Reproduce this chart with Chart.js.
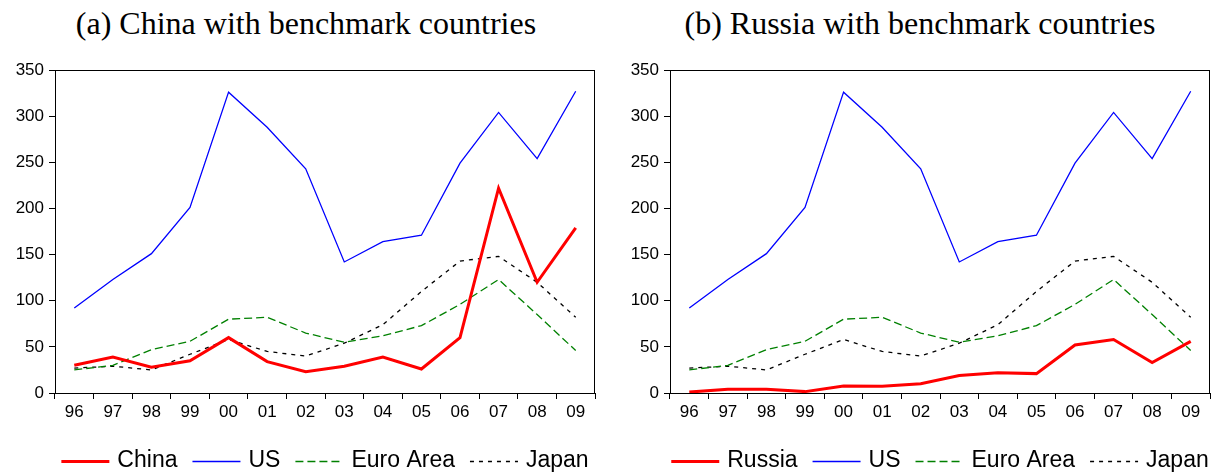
<!DOCTYPE html>
<html>
<head>
<meta charset="utf-8">
<script src="https://cdn.jsdelivr.net/npm/chart.js@4.4.0/dist/chart.umd.min.js"></script>
<style>
  html, body { margin: 0; background: #fff; overflow: hidden; }
  body { width: 1219px; height: 472px; position: relative; }
  .title { position: absolute; top: 7px; font-family: 'Liberation Serif', 'Times New Roman', serif; font-size: 32px; line-height: 1; color: #000; white-space: nowrap; transform: translateX(-50%); }
  .box { position: absolute; top: 0; height: 472px; }
</style>
</head>
<body>
<div class="title" style="left:306px">(a) China with benchmark countries</div>
<div class="title" style="left:920px">(b) Russia with benchmark countries</div>
<div class="box" style="left:0px;width:650px"><canvas id="chartA"></canvas></div>
<div class="box" style="left:610px;width:660px"><canvas id="chartB"></canvas></div>
<script>
  const years = ['96', '97', '98', '99', '00', '01', '02', '03', '04', '05', '06', '07', '08', '09'];
  const yTicks = [0, 50, 100, 150, 200, 250, 300, 350];

  const china = [30, 39, 28, 35, 60, 34, 23, 29, 39, 26, 60, 222, 120, 179];
  const russia = [1, 4, 4, 1.5, 7.6, 7.3, 10, 19, 22, 21, 52, 58, 33, 56];
  const us = [92, 123, 151, 201, 326, 288, 243, 142, 164, 171, 249, 304, 254, 327];
  const euroArea = [25, 30, 47, 56, 80, 82, 65, 55, 62, 73, 96, 123, 85, 46];
  const japan = [27, 29, 25, 42, 58, 45, 40, 54, 74, 110, 143, 148, 120, 82];

  const tickFont = { family: 'Liberation Sans, Arial, sans-serif', size: 17 };
  const legendLine = 48;

  // legend is centred under the plot area, frame closed on top/right, dashed legend samples
  const extras = {
    id: 'extras',
    afterLayout(chart) {
      const shift = chart.options.layout.padding.right / 2;
      chart.legend.left += shift;
      chart.legend.right += shift;
    },
    afterDraw(chart) {
      const a = chart.chartArea;
      const c = chart.ctx;
      c.save();
      c.strokeStyle = '#000';
      c.lineWidth = 1;
      c.strokeRect(a.left + 0.5, a.top + 0.5, a.right - a.left - 1, a.bottom - a.top);
      const boxes = chart.legend.legendHitBoxes || [];
      boxes.forEach((hb, i) => {
        const ds = chart.data.datasets[i];
        const y = Math.round(hb.top + hb.height / 2) + 0.5;
        c.beginPath();
        c.setLineDash(ds.borderDash || []);
        c.strokeStyle = ds.borderColor;
        c.lineWidth = ds.borderWidth;
        c.moveTo(hb.left, y);
        c.lineTo(hb.left + legendLine, y);
        c.stroke();
      });
      c.restore();
    }
  };

  function makeChart(id, mainName, mainData, yWidth) {
    const ctx = document.getElementById(id).getContext('2d');
    return new Chart(ctx, {
      type: 'line',
      data: {
        labels: years,
        datasets: [
          { label: mainName, data: mainData, borderColor: '#ff0000', backgroundColor: '#ff0000', borderWidth: 3 },
          { label: 'US', data: us, borderColor: '#0000ff', backgroundColor: '#0000ff', borderWidth: 1.3 },
          { label: 'Euro Area', data: euroArea, borderColor: '#008000', backgroundColor: '#008000', borderWidth: 1.3, borderDash: [8, 4] },
          { label: 'Japan', data: japan, borderColor: '#000000', backgroundColor: '#000000', borderWidth: 1.3, borderDash: [4, 5] }
        ]
      },
      options: {
        responsive: true,
        maintainAspectRatio: false,
        animation: false,
        elements: { point: { radius: 0 }, line: { tension: 0 } },
        layout: { padding: { top: 70, right: yWidth, bottom: 0, left: 0 } },
        plugins: {
          tooltip: { enabled: false },
          legend: {
            position: 'bottom',
            maxHeight: 38,
            labels: {
              boxWidth: 44.5,
              boxHeight: 23,
              padding: 15,
              color: '#000',
              font: { family: 'Liberation Sans, Arial, sans-serif', size: 23 },
              generateLabels(chart) {
                const items = Chart.defaults.plugins.legend.labels.generateLabels(chart);
                items.forEach(it => {
                  it.fillStyle = 'rgba(0,0,0,0)';
                  it.strokeStyle = 'rgba(0,0,0,0)';
                  it.lineWidth = 0;
                });
                return items;
              }
            }
          }
        },
        scales: {
          x: {
            offset: true,
            afterFit(scale) { scale.height = 41; },
            grid: { offset: true, drawOnChartArea: false, drawTicks: true, tickLength: 6, color: '#000' },
            border: { display: true, color: '#000', width: 1 },
            ticks: { color: '#000', font: tickFont, padding: 3, maxRotation: 0, autoSkip: false }
          },
          y: {
            min: 0,
            max: 350,
            afterFit(scale) { scale.width = yWidth; },
            afterBuildTicks(scale) { scale.ticks = yTicks.map(v => ({ value: v })); },
            grid: { drawOnChartArea: false, drawTicks: true, tickLength: 6, color: '#000' },
            border: { display: true, color: '#000', width: 1 },
            ticks: { color: '#000', font: tickFont, padding: 5 }
          }
        }
      },
      plugins: [extras]
    });
  }

  makeChart('chartA', 'China', china, 55);
  makeChart('chartB', 'Russia', russia, 60);
</script>
</body>
</html>
